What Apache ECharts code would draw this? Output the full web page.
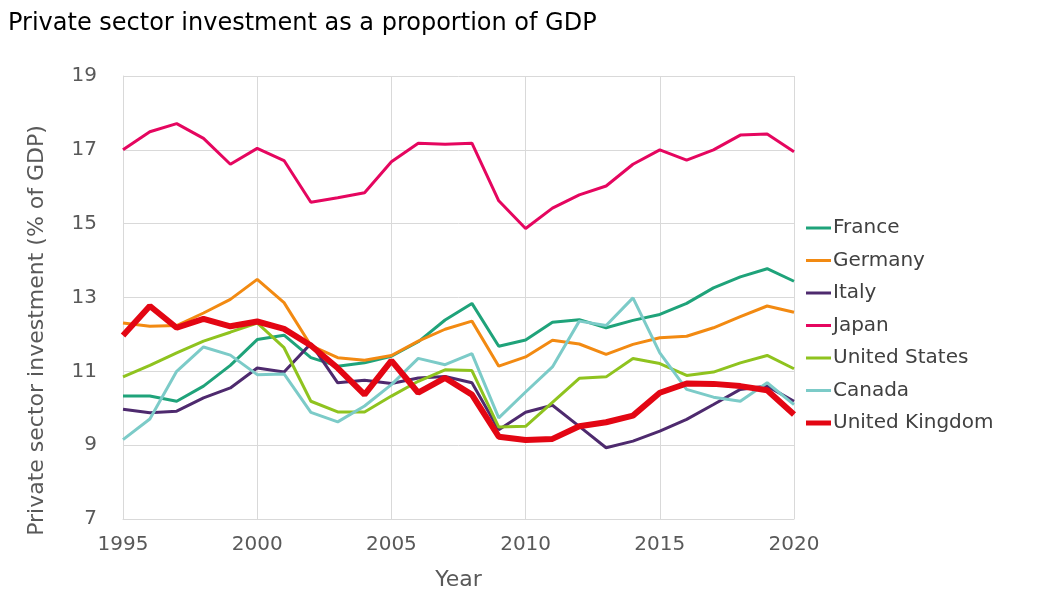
<!DOCTYPE html>
<html>
<head>
<meta charset="utf-8">
<script src="https://cdn.jsdelivr.net/npm/echarts@6/dist/echarts.min.js"></script>
<style>
html,body{margin:0;padding:0;background:#fff;}
#c{width:1043px;height:610px;}
</style>
</head>
<body>
<div id="c"></div>
<script>
const years = [1995,1996,1997,1998,1999,2000,2001,2002,2003,2004,2005,2006,2007,2008,2009,2010,2011,2012,2013,2014,2015,2016,2017,2018,2019,2020];
const france  = [10.33,10.33,10.19,10.60,11.16,11.86,11.98,11.37,11.14,11.23,11.41,11.80,12.39,12.84,11.68,11.85,12.33,12.40,12.18,12.38,12.54,12.84,13.26,13.56,13.78,13.44];
const germany = [12.31,12.22,12.24,12.58,12.95,13.49,12.86,11.70,11.37,11.30,11.43,11.82,12.14,12.36,11.14,11.39,11.84,11.74,11.46,11.73,11.91,11.95,12.18,12.48,12.77,12.60];
const italy   = [9.97,9.88,9.92,10.28,10.55,11.09,10.98,11.75,10.69,10.76,10.67,10.82,10.86,10.69,9.42,9.89,10.08,9.51,8.93,9.11,9.38,9.70,10.10,10.51,10.60,10.19];
const japan   = [17.00,17.49,17.71,17.31,16.61,17.04,16.71,15.58,15.70,15.84,16.68,17.18,17.15,17.18,15.62,14.87,15.42,15.78,16.02,16.61,17.00,16.72,17.00,17.40,17.43,16.95];
const usa     = [10.85,11.16,11.50,11.82,12.06,12.31,11.64,10.19,9.90,9.90,10.33,10.73,11.04,11.02,9.49,9.51,10.16,10.81,10.85,11.35,11.21,10.89,10.98,11.23,11.43,11.07];
const canada  = [9.15,9.71,11.00,11.66,11.44,10.91,10.93,9.89,9.63,10.06,10.64,11.35,11.18,11.48,9.74,10.44,11.12,12.36,12.24,12.99,11.50,10.51,10.30,10.19,10.69,10.10];
const uk      = [11.97,12.77,12.18,12.42,12.22,12.35,12.15,11.70,11.09,10.37,11.29,10.42,10.82,10.37,9.23,9.14,9.17,9.51,9.62,9.80,10.42,10.67,10.66,10.60,10.49,9.83];
const yTicks = [7,9,11,13,15,17,19];
const xTicks = [1995,2000,2005,2010,2015,2020];

const seriesDefs = [
  {name:'France', data:france, color:'#1fa37a', width:3},
  {name:'Germany', data:germany, color:'#f28a12', width:3},
  {name:'Italy', data:italy, color:'#4e2a6e', width:3},
  {name:'Japan', data:japan, color:'#e5065f', width:3},
  {name:'United States', data:usa, color:'#8fc31f', width:3},
  {name:'Canada', data:canada, color:'#7ccbc8', width:3},
  {name:'United Kingdom', data:uk, color:'#e30613', width:6}
];

const thinIcon = 'path://M0,0L0,0M0,5.5H25V8.5H0ZM0,14L0,14';
const thickIcon = 'path://M0,0L0,0M0,4.5H25V9.5H0ZM0,14L0,14';

const font = 'DejaVu Sans, Verdana, sans-serif';
const chart = echarts.init(document.getElementById('c'), null, {renderer:'canvas'});
chart.setOption({
  animation:false,
  backgroundColor:'#fff',
  title:{
    text:'Private sector investment as a proportion of GDP',
    left:3, top:7,
    textStyle:{fontFamily:font, fontSize:24, fontWeight:'normal', color:'#000'}
  },
  legend:{
    orient:'vertical', left:801, top:213,
    itemWidth:25, itemHeight:14, itemGap:12.5,
    itemStyle:{borderWidth:0},
    data:seriesDefs.map(s=>({name:s.name, icon: s.width>3?thickIcon:thinIcon, itemStyle:{color:s.color, borderWidth:0}})),
    textStyle:{fontFamily:font, fontSize:20, color:'#404040', padding:[0,0,0,-3]}
  },
  grid:{left:123, right:249, top:76, bottom:91, containLabel:false},
  xAxis:{
    type:'value', min:1995, max:2020, interval:5,
    name:'Year', nameLocation:'middle', nameGap:50,
    nameTextStyle:{fontFamily:font, fontSize:22, color:'#595959'},
    axisLine:{show:true, lineStyle:{color:'#d9d9d9', width:1}},
    axisTick:{show:false},
    axisLabel:{fontFamily:font, fontSize:20, color:'#595959', margin:16, formatter:v=>xTicks.includes(v)?String(v):''},
    splitLine:{show:true, lineStyle:{color:'#d9d9d9', width:1}}
  },
  yAxis:{
    type:'value', min:7, max:19, interval:2,
    name:'Private sector investment (% of GDP)', nameLocation:'middle', nameGap:75,
    nameTextStyle:{fontFamily:font, fontSize:22, color:'#595959', padding:[0,66,0,0]},
    axisLine:{show:true, lineStyle:{color:'#d9d9d9', width:1}},
    axisTick:{show:false},
    axisLabel:{fontFamily:font, fontSize:20, color:'#595959', margin:26, formatter:v=>yTicks.includes(v)?String(v):''},
    splitLine:{show:true, lineStyle:{color:'#d9d9d9', width:1}}
  },
  series:seriesDefs.map(s=>({
    name:s.name, type:'line', showSymbol:false, symbol:'none',
    data:years.map((y,i)=>[y,s.data[i]]),
    lineStyle:{color:s.color, width:s.width},
    itemStyle:{color:s.color},
    z: s.name==='United Kingdom'?5:2
  }))
});
</script>
</body>
</html>
